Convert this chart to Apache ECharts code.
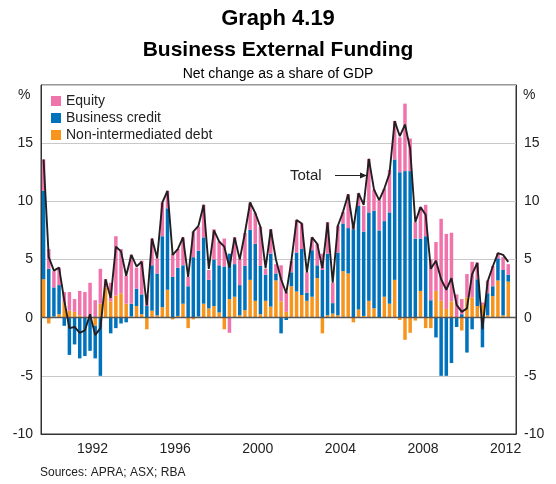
<!DOCTYPE html>
<html>
<head>
<meta charset="utf-8">
<script src="https://cdn.jsdelivr.net/npm/echarts@6.0.0/dist/echarts.min.js"></script>
<style>
  html, body { margin: 0; padding: 0; background: #fff; }
  #chart { width: 556px; height: 484px; }
</style>
</head>
<body>
<div id="chart"></div>
<script>
// Quarterly, 1990 Q1 to 2012 Q3 (per cent of GDP)
const nonIntermediated = [
  3.3, -0.5, 0.1, 0.3, 1.3, 0.6, 0.5, 0.2, 0, 0, -0.7, 1.2,
  2.6, 1.4, 1.9, 2.1, 1.2, 0.1, 1.0, 0.3, -1.0, 0.6, 0.2, 0.9,
  2.4, -0.15, 0.15, 1.2, -0.9, -0.15, 0.1, 1.2, 0.8, 1.0, 0.45, -1.0,
  1.6, 1.8, 0.2, 0.65, 3.25, 1.45, 0.3, 1.45, 0.95, 3.2, 1.4, 0.5,
  2.7, 2.25, 1.95, 1.45, 1.8, 3.4, -1.35, 0.2, 0.35, 0.2, 4.0, 3.8,
  -0.4, 0.7, 0.15, 1.45, 0.8, 0, 1.8, 1.2, 3.25, -0.2, -1.9, -1.3,
  -0.25, 2.3, -0.9, -0.9, 2.3, 1.45, 0.75, 1.4, 0, -1.1, 1.75, 1.75,
  1.0, 1.1, 0.2, 1.85, 3.2, 0.2, 3.1
];
const businessCredit = [
  7.6, 4.2, 2.5, 2.5, -0.7, -3.2, -2.3, -3.5, -3.3, -2.85, -2.8, -5.0,
  0, -1.35, -0.9, -0.5, -0.4, 1.1, 1.5, 1.7, 1.0, 3.9, 3.6, 6.1,
  7.0, 3.5, 4.15, 3.3, 2.7, 5.2, 5.65, 5.7, 2.45, 4.0, 4.05, 4.4,
  3.9, 2.8, 2.6, 3.8, 4.3, 4.9, 4.15, 2.25, 4.55, 0.6, -1.35, -0.2,
  1.2, 3.35, 3.95, 0.7, 4.0, 1.1, 4.1, 5.3, 0.9, 5.4, 4.1, 3.9,
  7.6, 8.9, 7.25, 7.6, 8.4, 7.5, 6.5, 7.85, 10.35, 12.5, 12.6, 12.6,
  6.8, 4.5, 7.0, 1.5, -1.7, -5.0, -5.0, -3.9, -0.8, 0.3, -3.0, -1.0,
  2.3, -2.55, 1.9, 0.85, 1.9, 3.9, 0.6
];
const equity = [
  2.7, 1.7, 1.4, 1.5, 0.9, 1.6, 1.1, 2.1, 2.2, 3.0, 1.5, 3.0,
  0.7, 1.6, 5.1, 3.8, 2.4, 4.2, 1.8, 2.9, 0.9, 2.3, 1.3, 2.9,
  1.5, 2.0, 1.6, 2.4, 0.8, 2.2, 2.05, 2.8, 0.85, 2.6, 2.05, 2.4,
  -1.3, 2.3, 2.2, 2.85, 2.35, 2.65, 3.35, 0.5, 2.1, 0.8, 3.1, 1.7,
  1.0, 2.8, 2.2, 1.75, 1.1, 1.85, 1.4, 2.7, 1.75, 2.3, 1.0, 2.9,
  0.3, 1.1, 2.2, 4.6, 1.8, 2.6, 2.8, 3.65, 3.3, 3.0, 5.8, 2.8,
  1.4, 2.7, 2.7, 3.5, 4.2, 7.05, 6.45, 5.9, 2.0, 1.3, 2.0, 3.05,
  1.45, 0.2, 1.1, 1.75, 0.45, 1.1, 0.9
];
const total = [
  13.6, 5.2, 4.05, 4.3, 1.5, -0.9, -0.8, -1.3, -1.1, 0.3, -1.5, -0.9,
  3.3, 1.7, 6.1, 5.7, 3.6, 5.4, 4.4, 4.8, 1.05, 6.8, 5.1, 9.9,
  10.9, 5.4, 5.9, 6.9, 3.5, 7.4, 7.9, 9.7, 4.2, 7.5, 6.55, 6.1,
  4.3, 6.9, 5.0, 7.3, 9.9, 9.0, 7.8, 4.25, 7.6, 5.0, 3.3, 2.1,
  4.9, 8.4, 8.1, 3.9, 6.9, 6.35, 4.25, 8.2, 3.0, 7.9, 9.1, 10.6,
  7.6, 10.7, 9.7, 13.65, 11.0, 10.1, 11.1, 12.4, 16.9, 15.6, 16.6, 14.5,
  8.2, 9.5, 8.85, 4.2, 4.9, 3.3, 2.4, 3.4, 1.1, 0.5, 0.8, 3.75,
  4.7, -1.0, 3.1, 4.4, 5.55, 5.4, 4.8
];
const firstYear = 1990;
const lastYear = 2012;
const labelYears = [1992, 1996, 2000, 2004, 2008, 2012];

const quarters = [];
for (let y = firstYear; y <= lastYear; y++) {
  for (let q = 1; q <= 4; q++) quarters.push(y + '-Q' + q);
}

const PINK = '#f173ac';
const BLUE = '#0072bc';
const ORANGE = '#f7941d';
const FONT = 'Liberation Sans, Arial, sans-serif';

const chart = echarts.init(document.getElementById('chart'));

const barSeries = (name, data, color) => ({
  name: name,
  type: 'bar',
  stack: 'funding',
  data: data,
  barWidth: 3.5,
  itemStyle: { color: color },
  silent: true
});

const yAxisBase = {
  type: 'value',
  min: -10,
  max: 20,
  interval: 5,
  axisLine: { show: true, lineStyle: { color: '#333', width: 1 } },
  axisTick: { show: false },
  splitLine: { lineStyle: { color: '#c8c8c8', width: 1 } },
  axisLabel: {
    fontFamily: FONT,
    fontSize: 14,
    color: '#222',
    margin: 8,
    formatter: v => (v === 20 ? '' : String(v))
  }
};

chart.setOption({
  animation: false,
  backgroundColor: '#fff',
  title: [
    { text: 'Graph 4.19', left: 'center', top: 3,
      textStyle: { fontFamily: FONT, fontSize: 22, fontWeight: 'bold', color: '#000' } },
    { text: 'Business External Funding', left: 'center', top: 35,
      textStyle: { fontFamily: FONT, fontSize: 21, fontWeight: 'bold', color: '#000' } },
    { text: 'Net change as a share of GDP', left: 'center', top: 62,
      textStyle: { fontFamily: FONT, fontSize: 14, fontWeight: 'normal', color: '#000' } }
  ],
  legend: {
    orient: 'vertical',
    left: 46,
    top: 89,
    itemWidth: 10,
    itemHeight: 10,
    itemGap: 3,
    icon: 'rect',
    data: ['Equity', 'Business credit', 'Non-intermediated debt'],
    textStyle: { fontFamily: FONT, fontSize: 14, color: '#222' },
    selectedMode: false
  },
  grid: { left: 41, right: 40, top: 85, bottom: 50, show: true, borderColor: '#333', borderWidth: 1 },
  xAxis: {
    type: 'category',
    data: quarters,
    boundaryGap: true,
    axisLine: { onZero: false, lineStyle: { color: '#333' } },
    axisTick: { inside: true, length: 5, interval: 3, lineStyle: { color: '#333' } },
    axisLabel: {
      fontFamily: FONT,
      fontSize: 14,
      color: '#222',
      margin: 8,
      padding: [0, 0, 0, 5],
      interval: (index, value) => {
        const y = +value.slice(0, 4);
        return value.endsWith('Q2') && labelYears.includes(y);
      },
      formatter: value => value.slice(0, 4)
    },
    splitLine: { show: false }
  },
  yAxis: [
    Object.assign({}, yAxisBase, { position: 'left' }),
    Object.assign({}, yAxisBase, { position: 'right' })
  ],
  series: [
    barSeries('Non-intermediated debt', nonIntermediated, ORANGE),
    barSeries('Business credit', businessCredit, BLUE),
    barSeries('Equity', equity, PINK),
    {
      name: 'Total',
      type: 'line',
      data: total,
      symbol: 'none',
      silent: true,
      z: 5,
      lineStyle: { color: '#231f20', width: 1.9 },
      markLine: {
        silent: true,
        symbol: 'none',
        label: { show: false },
        lineStyle: { color: '#555', width: 1.3, type: 'solid' },
        data: [{ yAxis: 0 }]
      }
    }
  ],
  graphic: [
    { type: 'text', left: 18, top: 88,
      style: { text: '%', fontFamily: FONT, fontSize: 14, fill: '#222' } },
    { type: 'text', left: 523, top: 88,
      style: { text: '%', fontFamily: FONT, fontSize: 14, fill: '#222' } },
    { type: 'text', left: 290, top: 168,
      style: { text: 'Total', fontFamily: FONT, fontSize: 15, fill: '#222' } },
    { type: 'line', shape: { x1: 335, y1: 175.5, x2: 362, y2: 175.5 },
      style: { stroke: '#222', lineWidth: 1 } },
    { type: 'polygon', shape: { points: [[367, 175.5], [360, 172.5], [360, 178.5]] },
      style: { fill: '#222' } },
    { type: 'text', left: 40, top: 467,
      style: { text: 'Sources: APRA; ASX; RBA', fontFamily: FONT, fontSize: 12, fill: '#222' } }
  ]
});
</script>
</body>
</html>
